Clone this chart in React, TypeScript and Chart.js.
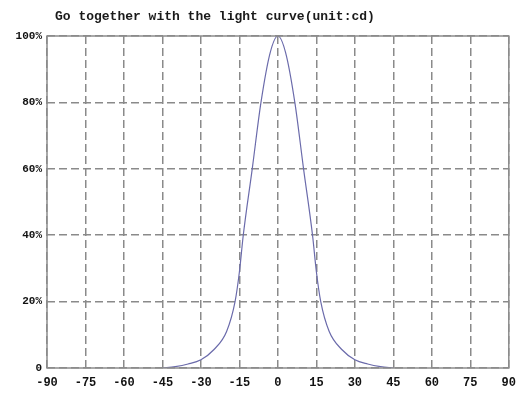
import React, { useEffect, useRef } from "react";
import { Chart, registerables } from "chart.js";

Chart.register(...registerables);

const TITLE = "Go together with the light curve(unit:cd)";
const angles = [-45, -40, -35, -30, -25, -20, -16.7, -15, -13.5, -10, -6.6, -3, 0, 3, 6.6, 10, 13.5, 15, 16.7, 20, 25, 30, 35, 40, 45];
const intensity = [0, 0.4, 1.2, 2.5, 5.5, 11, 20, 29, 40, 60, 80, 95, 100, 95, 80, 60, 40, 29, 20, 11, 5.5, 2.5, 1.2, 0.4, 0];
const xTicksMin = -90;
const xTicksMax = 90;
const xStep = 15;
const yStep = 20;

const FONT = "'Liberation Mono', 'DejaVu Sans Mono', monospace";

export default function App() {
  const ref = useRef<HTMLCanvasElement>(null);
  useEffect(() => {
    document.body.style.margin = "0";
    const canvas = ref.current!;
    const framePlugin = {
      id: "frame",
      afterDraw(chart: any) {
        const { ctx, chartArea: a } = chart;
        ctx.save();
        ctx.strokeStyle = "#8c8c8c";
        ctx.lineWidth = 1.5;
        ctx.setLineDash([]);
        ctx.strokeRect(a.left, a.top, a.right - a.left, a.bottom - a.top);
        ctx.fillStyle = "#1a1a1a";
        ctx.font = "bold 13px " + FONT;
        ctx.textBaseline = "middle";
        ctx.textAlign = "left";
        ctx.fillText(TITLE, 55, 17);
        ctx.restore();
      },
    };
    const chart = new Chart(canvas, {
      type: "line",
      data: {
        datasets: [
          {
            data: angles.map((a, i) => ({ x: a, y: intensity[i] })),
            borderColor: "#6b6bab",
            borderWidth: 1.2,
            pointRadius: 0,
            cubicInterpolationMode: "monotone",
            fill: false,
          },
        ],
      },
      options: {
        animation: false,
        responsive: false,
        layout: { padding: { top: 36, right: 12, left: 0, bottom: 0 } },
        plugins: { legend: { display: false }, tooltip: { enabled: false }, title: { display: false } },
        scales: {
          x: {
            type: "linear",
            min: xTicksMin,
            max: xTicksMax,
            afterFit: (s: any) => {
              s.height = 32;
            },
            ticks: {
              stepSize: xStep,
              padding: 8,
              color: "#111",
              font: { family: FONT, size: 12, weight: "bold" },
              maxRotation: 0,
            },
            grid: { color: "#8a8a8a", lineWidth: 1.5, drawTicks: false },
            border: { display: false, dash: [8, 4] },
          },
          y: {
            min: 0,
            max: 100,
            afterFit: (s: any) => {
              s.width = 47;
            },
            ticks: {
              stepSize: yStep,
              padding: 5,
              color: "#111",
              font: { family: FONT, size: 11, weight: "bold" },
              callback: (v: any) => (v === 0 ? "0" : v + "%"),
            },
            grid: { color: "#8a8a8a", lineWidth: 1.5, drawTicks: false },
            border: { display: false, dash: [8, 4] },
          },
        },
      },
      plugins: [framePlugin],
    } as any);
    return () => chart.destroy();
  }, []);
  return <canvas ref={ref} width={524} height={400} style={{ display: "block", background: "#fff" }} />;
}
